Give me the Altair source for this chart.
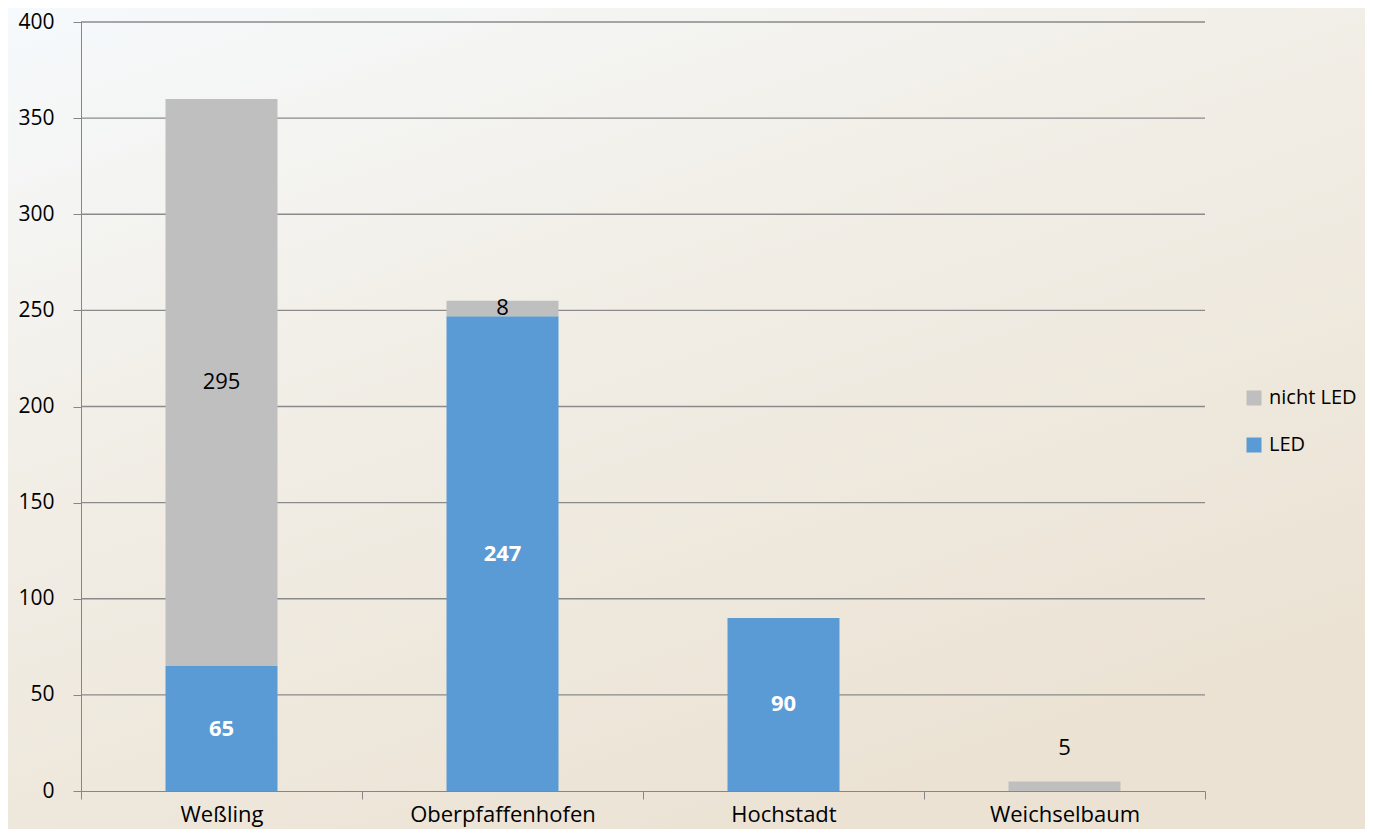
import altair as alt
import pandas as pd

categories = ["Weßling", "Oberpfaffenhofen", "Hochstadt", "Weichselbaum"]
led = [65, 247, 90, 0]
nicht_led = [295, 8, 0, 5]
series = ["nicht LED", "LED"]
colors = ["#bfbfbf", "#5b9bd5"]
y_ticks = [0, 50, 100, 150, 200, 250, 300, 350, 400]

FONT = "Open Sans"
FS = 22
W, H = 1124, 769

rows = []
for c, a, b in zip(categories, led, nicht_led):
    rows.append({"cat": c, "series": "LED", "value": a, "ord": 0})
    rows.append({"cat": c, "series": "nicht LED", "value": b, "ord": 1})
df = pd.DataFrame(rows)

lab = []
for c, a, b in zip(categories, led, nicht_led):
    if a > 0:
        lab.append({"cat": c, "kind": "led", "mid": a / 2, "txt": str(a)})
    if b > 0:
        lab.append({"cat": c, "kind": "above" if b < 6 else "other",
                    "mid": a + b / 2, "txt": str(b)})
labdf = pd.DataFrame(lab)
griddf = pd.DataFrame({"v": y_ticks[1:]})

x_enc = alt.X("cat:N", sort=categories, title=None,
              scale=alt.Scale(paddingInner=0, paddingOuter=0),
              axis=alt.Axis(labelAngle=0, tickBand="extent", tickSize=8,
                            labelPadding=5, labelFontSize=FS, labelFont=FONT,
                            labelLimit=400,
                            labelColor="#000000", domainColor="#868686",
                            tickColor="#868686", grid=False, zindex=1))
y_scale = alt.Scale(domain=[0, 400], nice=False)

bg = alt.Chart(pd.DataFrame({"a": [0]})).mark_rect(
    clip=False,
    fill={"x1": 0, "y1": 0, "x2": 0.55, "y2": 1, "gradient": "linear",
          "stops": [{"offset": 0, "color": "#f6fafd"},
                    {"offset": 0.4, "color": "#f2efe8"},
                    {"offset": 1, "color": "#ebe2d3"}]},
).encode(x=alt.value(-81), x2=alt.value(W + 176), y=alt.value(-20), y2=alt.value(H + 60))

grid = alt.Chart(griddf).mark_rule(color="#8a8a8a", strokeWidth=1.3).encode(
    y=alt.Y("v:Q", scale=y_scale)
)

bars = alt.Chart(df).mark_bar(size=112).encode(
    x=x_enc,
    y=alt.Y("value:Q", stack="zero", title=None, scale=y_scale,
            axis=alt.Axis(values=y_ticks, tickSize=8, labelPadding=19,
                          labelFontSize=21, labelFont=FONT, labelColor="#000000",
                          domainColor="#868686", tickColor="#868686",
                          grid=False, zindex=1)),
    color=alt.Color("series:N", scale=alt.Scale(domain=series, range=colors),
                    legend=alt.Legend(title=None, orient="none", legendX=1163, legendY=366,
                                      symbolType="square", symbolSize=225,
                                      symbolStrokeWidth=0, labelFontSize=20,
                                      labelFont=FONT, labelColor="#000000",
                                      labelLimit=300,
                                      rowPadding=27, labelOffset=5)),
    order=alt.Order("ord:Q", sort="ascending"),
)

text_led = alt.Chart(labdf).transform_filter(alt.datum.kind == "led").mark_text(
    font=FONT, fontSize=FS, fontWeight="bold", color="white", baseline="middle"
).encode(x=alt.X("cat:N", sort=categories), y=alt.Y("mid:Q", scale=y_scale), text="txt:N")

text_other = alt.Chart(labdf).transform_filter(alt.datum.kind == "other").mark_text(
    font=FONT, fontSize=FS, color="black", baseline="middle"
).encode(x=alt.X("cat:N", sort=categories), y=alt.Y("mid:Q", scale=y_scale), text="txt:N")

text_above = alt.Chart(labdf).transform_filter(alt.datum.kind == "above").mark_text(
    font=FONT, fontSize=FS, color="black", baseline="middle", dy=-38
).encode(x=alt.X("cat:N", sort=categories), y=alt.Y("mid:Q", scale=y_scale), text="txt:N")

chart = alt.layer(bg, grid, bars, text_led, text_other, text_above).properties(
    width=W, height=H,
    autosize=alt.AutoSizeParams(type="none"),
    padding={"left": 73, "top": 14, "right": 160, "bottom": 38},
).configure_view(stroke=None).configure(background="#efe9df")

chart.save("out.html", embed_options={"renderer": "svg", "actions": False})
